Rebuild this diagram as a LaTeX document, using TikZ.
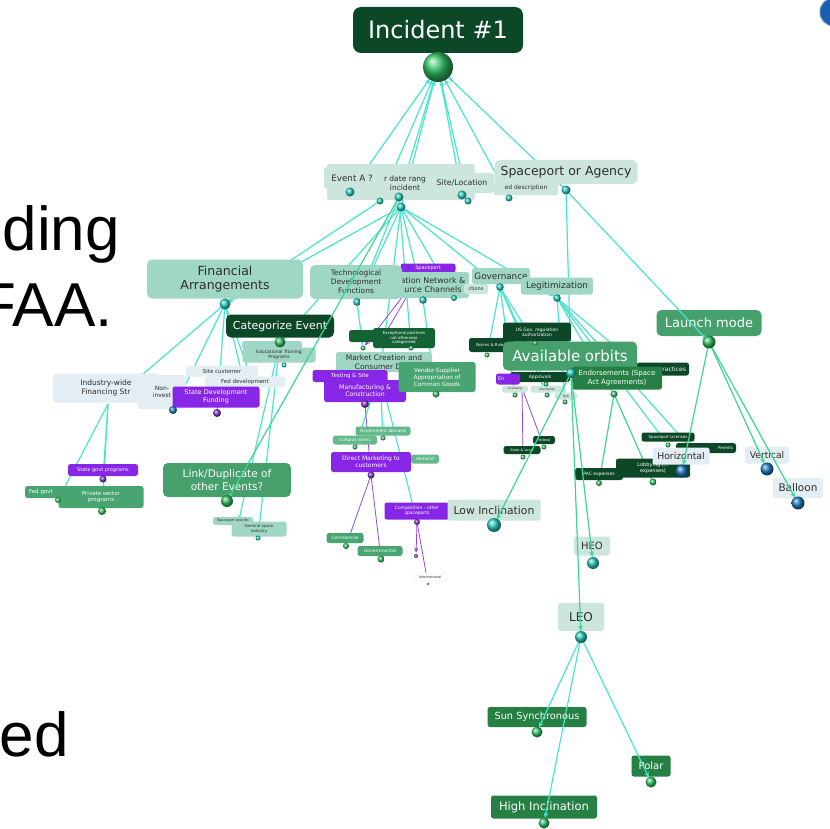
\documentclass[tikz,border=0pt]{standalone}
\usepackage{fontspec}
\setmainfont{DejaVu Sans}
\newfontfamily\arialf{Liberation Sans}
\usetikzlibrary{arrows.meta}
\definecolor{dkg}{RGB}{12,72,40}
\definecolor{dkg2}{RGB}{20,98,52}
\definecolor{mdg}{RGB}{70,160,108}
\definecolor{gr2}{RGB}{38,128,68}
\definecolor{ltt}{RGB}{160,214,196}
\definecolor{ltt2}{RGB}{204,230,222}
\definecolor{pal}{RGB}{228,237,243}
\definecolor{pur}{RGB}{136,38,232}
\definecolor{pgr}{RGB}{100,185,140}
\definecolor{vgr}{RGB}{72,164,112}
\definecolor{cyl}{RGB}{72,228,206}
\definecolor{grl}{RGB}{60,214,146}
\definecolor{pul}{RGB}{150,70,220}
\definecolor{txd}{RGB}{45,45,45}
\definecolor{bcy}{RGB}{40,205,190}
\definecolor{bgrn}{RGB}{50,195,100}
\definecolor{bpu}{RGB}{130,50,200}
\definecolor{bbl}{RGB}{30,125,190}
\definecolor{topbl}{RGB}{25,95,175}
\newcommand\myball[3]{\shade[ball color=#2] (#1) circle[radius=#3pt];}
\tikzset{
 bx/.style={rounded corners=2.5pt, inner sep=0.8pt, align=center, anchor=center},
 big/.style={rounded corners=5pt},
 sz/.style 2 args={minimum width=#1, minimum height=#2},
 fs/.code={\pgfmathsetmacro\fslead{#1*1.18}\pgfkeysalso{font/.expanded={\noexpand\fontsize{#1}{\fslead}\noexpand\selectfont}}},
 dk/.style={bx, fill=dkg, text=white},
 dk2/.style={bx, fill=dkg2, text=white},
 md/.style={bx, fill=mdg, text=white},
 g2/.style={bx, fill=gr2, text=white},
 lt/.style={bx, fill=ltt, text=txd},
 lt2/.style={bx, fill=ltt2, text=txd},
 pa/.style={bx, fill=pal, text=txd},
 pu/.style={bx, fill=pur, text=white},
 pg/.style={bx, fill=pgr, text=white},
 vg/.style={bx, fill=vgr, text=white},
 cn/.style={draw=cyl, line width=1.2pt, -{Stealth[length=5.5pt,width=4.5pt]}, shorten >=3pt},
 cnr/.style={draw=cyl, line width=1.2pt, {Stealth[length=5.5pt,width=4.5pt]}-, shorten <=14pt},
 cg/.style={cn, draw=grl},
 cp/.style={cn, draw=pul, line width=0.8pt},
 bigt/.style={font=\arialf\fontsize{62}{62}\selectfont, anchor=base east, inner sep=0pt, text=black}
}
\begin{document}
\begin{tikzpicture}[x=1pt,y=-1pt]
\useasboundingbox (0,0) rectangle (830,829);
\clip (0,0) rectangle (830,829);
% ---------- ball positions
\coordinate (b0) at (438,67);
\coordinate (e1) at (350,192);
\coordinate (e2) at (380,201);
\coordinate (e3) at (399,197);
\coordinate (e4) at (401,207);
\coordinate (e5) at (462,195);
\coordinate (e6) at (468,201);
\coordinate (e7) at (509,198);
\coordinate (spb) at (566,190);
\coordinate (fab) at (225,304);
\coordinate (tdb) at (357,302);
\coordinate (infb) at (423,300);
\coordinate (ctb) at (454,298);
\coordinate (govb) at (500,287);
\coordinate (legb) at (557,298);
\coordinate (catb) at (280,342);
\coordinate (edub) at (284,365);
\coordinate (iwb) at (108,404);
\coordinate (sicb) at (243,378);
\coordinate (fddb) at (256,392);
\coordinate (nonb) at (173,410);
\coordinate (sdfb) at (217,413);
\coordinate (stgb) at (103,479);
\coordinate (pvtb) at (102,511);
\coordinate (fgvb) at (58,500);
\coordinate (lnkb) at (227,501);
\coordinate (spsb) at (238,524);
\coordinate (gsib) at (258,538);
\coordinate (lchb) at (363,348);
\coordinate (tsib) at (378,346);
\coordinate (excb) at (411,348);
\coordinate (sppb) at (420,274);
\coordinate (mcb) at (380,374);
\coordinate (mfgb) at (365,404);
\coordinate (vndb) at (436,394);
\coordinate (gvdb) at (383,438);
\coordinate (culb) at (355,447);
\coordinate (dmkb) at (371,475);
\coordinate (comb) at (346,546);
\coordinate (gvmb) at (381,559);
\coordinate (cmpb) at (417,522);
\coordinate (smb) at (416,556);
\coordinate (intb) at (428,584);
\coordinate (nrb) at (487,355);
\coordinate (usgb) at (535,343);
\coordinate (aob) at (571,373);
\coordinate (aprb) at (546,384);
\coordinate (endb) at (614,394);
\coordinate (prcb) at (652,377);
\coordinate (enb) at (522,388);
\coordinate (lcsb) at (515,395);
\coordinate (stdb) at (547,395);
\coordinate (tchb) at (565,402);
\coordinate (fedb) at (544,447);
\coordinate (stlb) at (523,457);
\coordinate (splb) at (668,445);
\coordinate (prmb) at (698,456);
\coordinate (horb) at (682,471);
\coordinate (lobb) at (653,482);
\coordinate (pacb) at (599,483);
\coordinate (verb) at (767,469);
\coordinate (balb) at (798,503);
\coordinate (lmb) at (709,342);
\coordinate (lib) at (494,525);
\coordinate (heob) at (593,563);
\coordinate (leob) at (581,637);
\coordinate (sunb) at (537,732);
\coordinate (polb) at (651,782);
\coordinate (hinb) at (544,823);

% ---------- left slide text
\node[bigt] (t1) at (120,251) {ding};
\node[bigt] (t2) at (113,326) {FAA.};
\node[bigt] (t3) at (69,756) {ed};

% ---------- connectors under the boxes
\foreach \t in {e1,e2,e3,e4,e5,e6,e7,spb} \draw[cnr] (b0) -- (\t);
\draw[cn] (e4) -- (fab);
\draw[cn] (e2) -- (fab);
\draw[cn] (e4) -- (tdb);
\draw[cn] (e3) -- (tdb);
\draw[cn] (e4) -- (catb);
\draw[cn] (e4) -- (infb);
\draw[cn] (e4) -- (ctb);
\draw[cn] (e4) -- (govb);
\draw[cn] (e4) -- (legb);
\draw[cn] (e4) -- (mcb);
\draw[cn] (e3) -- (excb);
\draw[cn] (fab) -- (iwb);
\draw[cn] (fab) -- (nonb);
\draw[cn] (fab) -- (sdfb);
\draw[cn] (fab) -- (sicb);
\draw[cn] (fab) -- (fddb);
\draw[cn] (iwb) -- (stgb);
\draw[cn] (iwb) -- (pvtb);
\draw[cn] (iwb) -- (fgvb);
\draw[cn] (catb) -- (edub);
\draw[cn] (catb) -- (spsb);
\draw[cn] (catb) -- (gsib);
\draw[cn] (tdb) -- (lchb);
\draw[cp] (sppb) -- (lchb);
\draw[cp] (sppb) -- (tsib);
\draw[cn] (mcb) -- (culb);
\draw[cn] (mcb) -- (gvdb);
\draw[cn] (mcb) -- (cmpb);
\draw[cp] (mfgb) -- (dmkb);
\draw[cp] (dmkb) -- (comb);
\draw[cp] (dmkb) -- (gvmb);
\draw[cp] (cmpb) -- (smb);
\draw[cp] (cmpb) -- (intb);
\draw[cn] (infb) -- (vndb);
\draw[cn] (govb) -- (nrb);
\draw[cn] (govb) -- (usgb);
\draw[cn] (govb) -- (aprb);
\draw[cn] (govb) -- (lcsb);
\draw[cn] (govb) -- (stdb);
\draw[cn] (legb) -- (endb);
\draw[cn] (legb) -- (prcb);
\draw[cn] (legb) -- (splb);
\draw[cn] (legb) -- (prmb);
\draw[cn] (legb) -- (tchb);
\draw[cg] (endb) -- (pacb);
\draw[cg] (endb) -- (lobb);
\draw[cp] (enb) -- (fedb);
\draw[cp] (enb) -- (stlb);
\draw[cn] (spb) -- (aob);

% ---------- boxes
\node[dk, rounded corners=8pt, sz={170}{46}, fs=24] (inc) at (438,30) {Incident \#1};
\node[lt2, sz={148}{36}] (evbg) at (401,182) {};
\node[lt2, sz={64}{15}, fs=6] (eds) at (526,188) {ed description};
\node[lt2, sz={52}{28}, fs=7.5] (dat) at (405,183) {r date rang\\incident};
\node[lt2, sz={56}{21}, fs=8.8] (eva) at (352,178) {Event A ?};
\node[lt2, sz={64}{20}, fs=7.8] (sil) at (462,183) {Site/Location};
\node[lt2, big, sz={143}{24}, fs=12.5] (spa) at (566,172) {Spaceport or Agency};

\node[lt, big, sz={156}{39}, fs=12.5] (fa) at (225,279) {Financial\\Arrangements};
\node[pu, sz={55}{9}, fs=5] (spp) at (428,268) {Spaceport};
\node[lt, sz={72}{26}, fs=8] (inf) at (433,285) {ation Network \&\\urce Channels};
\node[lt2, sz={24}{10}, fs=5] (ctn) at (476,289) {ctions};
\node[lt, big, sz={92}{34}, fs=7.5] (td) at (356,282) {Technological\\Development\\Functions};
\node[lt, sz={58}{16}, fs=8.8] (gov) at (501,276) {Governance};
\node[lt, sz={72}{17}, fs=8.8] (leg) at (557,286) {Legitimization};

\node[dk, big, sz={108}{23}, fs=11] (cat) at (280,326) {Categorize Event};
\node[lt, sz={60}{8}] (rec) at (272,345) {};
\node[lt, sz={73}{15}, fs=4.5] (edu) at (279,355) {Educational Training\\Programs};

\node[pa, sz={106}{29}, fs=7.5] (iw) at (106,388) {Industry-wide\\Financing Str};
\node[pa, sz={72}{11}, fs=5.5] (sic) at (222,371) {Site customer};
\node[pa, sz={80}{11}, fs=5.5] (fdd) at (245,382) {Fed development};
\node[pa, sz={48}{34}, fs=6] (non) at (162,392) {Non-\\invest};
\node[pu, sz={87}{21}, fs=6.5] (sdf) at (216,397) {State Development\\Funding};

\node[md, big, sz={128}{34}, fs=10.5] (lnk) at (227,480) {Link/Duplicate of\\other Events?};
\node[lt, sz={40}{8}, fs=3.5] (sps) at (233,521) {Spaceport specific};
\node[lt, sz={55}{15}, fs=4] (gsi) at (259,529) {General space\\industry};

\node[pu, sz={70}{12}, fs=5] (stg) at (103,470) {State govt programs};
\node[vg, sz={70}{12}, fs=5.5, text width=62pt, align=left] (fgv) at (60,492) {Fed govt};
\node[vg, sz={85}{22}, fs=5.5] (pvt) at (101,497) {Private sector\\programs};

\node[lt, sz={96}{20}, fs=7.5] (mcd) at (384,362) {Market Creation and\\Consumer Dem};
\node[dk2, sz={26}{12}] (lch) at (362,336) {};
\node[dk2, sz={62}{20}, fs=4] (exc) at (404,338) {Exceptional positives\\not otherwise\\categorized};
\node[pu, sz={75}{12}, fs=5.5] (tsi) at (350,376) {Testing \& Site};
\node[pu, sz={82}{22}, fs=6.2] (mfg) at (365,391) {Manufacturing \&\\Construction};
\node[vg, sz={77}{30}, fs=5.8] (vnd) at (437,377) {Vendor-Supplier\\Appropriation of\\Common Goods};

\node[pg, sz={55}{9}, fs=4.3] (gvd) at (383,431) {Government demand};
\node[pg, sz={44}{9}, fs=4.3] (cul) at (355,440) {Cultural norms};
\node[pu, sz={80}{20}, fs=6] (dmk) at (371,462) {Direct Marketing to\\customers};
\node[pg, sz={28}{9}, fs=4.3] (dmd) at (425,459) {demand};
\node[pu, sz={65}{17}, fs=4.5] (cmp) at (417,511) {Competition - other\\spaceports};
\node[vg, sz={37}{10}, fs=4.5] (com) at (345,538) {Commercial};
\node[vg, sz={45}{10}, fs=4.5] (gvm) at (380,551) {Governmental};
\node[bx, draw=black!25, densely dotted, fill=white, text=txd, sz={34}{9}, fs=3.5] (int) at (430,577) {International};

\node[dk, sz={68}{19}, fs=4.5] (usg) at (537,332) {US Gov. regulation\\authorization};
\node[dk, sz={44}{14}, fs=4] (nrr) at (491,345) {Norms \& Rules};
\node[dk, sz={52}{13}, fs=6, text width=46pt, align=right] (prc) at (663,369) {ractices};
\node[md, big, sz={134}{29}, fs=15] (ao) at (570,356) {Available orbits};
\node[dk, sz={60}{10}, fs=4.5] (apr) at (540,377) {Approvals};
\node[g2, sz={90}{23}, fs=7] (end) at (617,378) {Endorsements (Space\\Act Agreements)};
\node[pu, sz={24}{11}, fs=5, text width=20pt, align=left] (enp) at (508,379) {En};
\node[lt2, sz={26}{7}, fs=3] (lcs) at (515,389) {Licensing};
\node[lt2, sz={33}{7}, fs=3] (std) at (547,389) {Standards};
\node[lt2, sz={22}{7}, fs=3] (tch) at (566,396) {Tech};
\node[dk, sz={22}{8}, fs=3.5] (fed) at (544,440) {Federal};
\node[dk, sz={37}{8}, fs=3.5] (stl) at (522,450) {State \& Local};
\node[dk, sz={60}{10}, fs=4, text width=54pt, align=right] (prm) at (706,448) {Permits};
\node[dk, sz={53}{9}, fs=4] (spl) at (668,437) {Spaceport Licenses};
\node[dk, sz={48}{12}, fs=4.5] (pac) at (599,474) {PAC expenses};
\node[dk, sz={74}{19}, fs=5] (lob) at (653,468) {Lobbying (...\\expenses)};
\node[pa, sz={57}{17}, fs=9.3] (hor) at (681,456) {Horizontal};
\node[pa, sz={44}{17}, fs=9.2] (ver) at (767,455) {Vertical};
\node[pa, sz={50}{20}, fs=10.5] (bal) at (798,488) {Balloon};
\node[md, big, sz={105}{26}, fs=13] (lm) at (709,323) {Launch mode};

\node[lt2, sz={93}{21}, fs=10.8] (li) at (494,510) {Low Inclination};
\node[lt2, sz={36}{19}, fs=10] (heo) at (592,546) {HEO};
\node[lt2, sz={46}{28}, fs=12] (leo) at (581,617) {LEO};
\node[g2, sz={99}{20}, fs=9.8] (sun) at (537,717) {Sun Synchronous};
\node[g2, sz={39}{21}, fs=10] (pol) at (651,766) {Polar};
\node[g2, sz={106}{23}, fs=11.5] (hin) at (544,807) {High Inclination};

% ---------- connectors over the boxes
\draw[cn] (spb) -- (lmb);
\draw[cg] (e3) -- (lnkb);
\draw[cg, shorten >=6pt] (lmb) -- (horb);
\draw[cg, shorten >=6pt] (lmb) -- (verb);
\draw[cg, shorten >=6pt] (lmb) -- (balb);
\draw[cg, shorten >=6pt] (aob) -- (lib);
\draw[cg, shorten >=6pt] (aob) -- (heob);
\draw[cg, shorten >=6pt] (aob) -- (leob);
\draw[cn, shorten >=5pt] (leob) -- (sunb);
\draw[cn, shorten >=5pt] (leob) -- (polb);
\draw[cn, shorten >=5pt] (leob) -- (hinb);

% ---------- balls
\myball{b0}{bgrn}{15}
\foreach \t in {e1,e3,e4,e5} {\myball{\t}{bcy}{4.5}}
\foreach \t in {e2,e6,e7} {\myball{\t}{bcy}{3.5}}
\myball{spb}{bcy}{4.5}
\myball{fab}{bcy}{5.5}
\foreach \t in {tdb,infb,govb,legb} {\myball{\t}{bcy}{3.8}}
\myball{ctb}{bcy}{3}
\myball{catb}{bgrn}{5.5}
\myball{edub}{bcy}{2.5}
\myball{nonb}{bbl}{4}
\myball{sdfb}{bpu}{4}
\myball{stgb}{bpu}{3.5}
\myball{pvtb}{bgrn}{4}
\myball{fgvb}{bgrn}{3}
\myball{lnkb}{bgrn}{6}
\myball{gsib}{bcy}{2.5}
\myball{lchb}{bgrn}{2.5}
\myball{excb}{bgrn}{2.5}
\myball{mfgb}{bpu}{4}
\myball{vndb}{bgrn}{3.5}
\myball{gvdb}{bgrn}{2.5}
\myball{culb}{bgrn}{2.5}
\myball{dmkb}{bpu}{3.5}
\myball{comb}{bgrn}{3}
\myball{gvmb}{bgrn}{3.5}
\myball{cmpb}{bpu}{3}
\myball{smb}{bpu}{2}
\myball{intb}{gray}{1.5}
\myball{nrb}{bgrn}{2.5}
\myball{usgb}{bgrn}{2.5}
\myball{aob}{bcy}{5}
\myball{aprb}{bgrn}{2.5}
\myball{endb}{bgrn}{3.5}
\foreach \t in {lcsb,stdb,tchb,fedb,stlb,splb} {\myball{\t}{bgrn}{2.5}}
\myball{lobb}{bgrn}{3.5}
\myball{pacb}{bgrn}{3}
\myball{horb}{bbl}{6.5}
\myball{verb}{bbl}{6.5}
\myball{balb}{bbl}{6.5}
\myball{lmb}{bgrn}{6.5}
\myball{lib}{bcy}{7}
\myball{heob}{bcy}{6}
\myball{leob}{bcy}{6}
\myball{sunb}{bgrn}{5.5}
\myball{polb}{bgrn}{5.5}
\myball{hinb}{bgrn}{5.5}
% partial blue disc at top right
\node[circle, fill=topbl, draw=topbl!70!white, line width=1pt, minimum size=28pt, inner sep=0pt] (blue) at (834,12) {};
\end{tikzpicture}
\end{document}
